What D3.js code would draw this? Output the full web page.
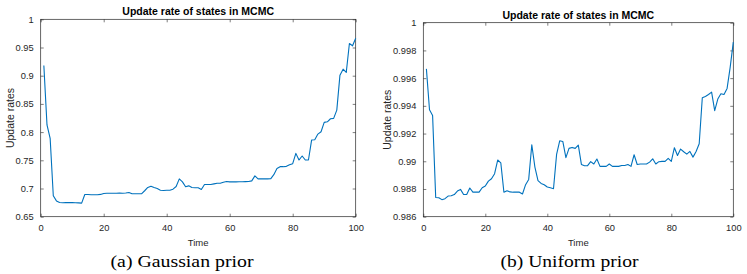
<!DOCTYPE html>
<html>
<head>
<meta charset="utf-8">
<script src="https://cdn.jsdelivr.net/npm/d3@7"></script>
<style>
  html, body { margin: 0; padding: 0; background: #fff; }
  svg { display: block; }
</style>
</head>
<body>
<svg id="chart" width="747" height="274"></svg>
<script>
// ---- data ----
const timeSteps = d3.range(1, 101);

const gaussianRates = [
  0.918, 0.8126, 0.789, 0.687, 0.678, 0.6753, 0.6747, 0.675, 0.675, 0.675,
  0.6748, 0.6745, 0.6741, 0.6894, 0.6894, 0.689, 0.689, 0.689, 0.6895, 0.6912,
  0.6915, 0.6915, 0.6915, 0.6915, 0.6918, 0.6915, 0.692, 0.693, 0.6906, 0.6906,
  0.6906, 0.6906, 0.696, 0.7018, 0.7041, 0.7018, 0.700, 0.697, 0.6965, 0.697,
  0.697, 0.6988, 0.7035, 0.717, 0.7118, 0.703, 0.7047, 0.7018, 0.7012, 0.7012,
  0.6982, 0.707, 0.707, 0.707, 0.7082, 0.7094, 0.7094, 0.7112, 0.7124, 0.7118,
  0.7118, 0.7118, 0.712, 0.712, 0.7122, 0.7124, 0.7135, 0.7224, 0.717, 0.717,
  0.717, 0.717, 0.7172, 0.7245, 0.7355, 0.7387, 0.7387, 0.7393, 0.7422, 0.744,
  0.7623, 0.7505, 0.7576, 0.7505, 0.7505, 0.7859, 0.7865, 0.7965, 0.8006, 0.8172,
  0.8183, 0.8237, 0.8243, 0.839, 0.901, 0.9116, 0.9057, 0.957, 0.953, 0.9665
];

const uniformRates = [
  0.99667, 0.99372, 0.99331, 0.98739, 0.98737, 0.98723, 0.9873, 0.98749, 0.98751, 0.9876,
  0.98785, 0.98797, 0.9876, 0.9876, 0.98807, 0.98777, 0.98777, 0.98777, 0.98809, 0.98821,
  0.98857, 0.98874, 0.9891, 0.99009, 0.98989, 0.98777, 0.98787, 0.98779, 0.98777, 0.98777,
  0.98777, 0.98764, 0.98831, 0.98869, 0.99119, 0.98958, 0.9886, 0.9884, 0.98831, 0.98814,
  0.98809, 0.98802, 0.9905, 0.99148, 0.99143, 0.99026, 0.99093, 0.991, 0.99093, 0.99117,
  0.98977, 0.98968, 0.98968, 0.98997, 0.9898, 0.99016, 0.98963, 0.98963, 0.98963, 0.9898,
  0.98963, 0.98963, 0.98963, 0.9897, 0.9897, 0.98977, 0.98963, 0.99047, 0.98977, 0.9898,
  0.9898, 0.9898, 0.98994, 0.99018, 0.9898, 0.98997, 0.98999, 0.98999, 0.99021, 0.98999,
  0.99098, 0.99042, 0.99088, 0.99069, 0.99052, 0.99071, 0.9903, 0.99071, 0.99126, 0.99458,
  0.99468, 0.99482, 0.99499, 0.99365, 0.99449, 0.99487, 0.99482, 0.99526, 0.99679, 0.9986
];

const xTickValues = [0, 20, 40, 60, 80, 100];
const gaussianYTicks = [0.65, 0.7, 0.75, 0.8, 0.85, 0.9, 0.95, 1];
const gaussianYTickLabels = ["0.65", "0.7", "0.75", "0.8", "0.85", "0.9", "0.95", "1"];
const uniformYTicks = [0.986, 0.988, 0.99, 0.992, 0.994, 0.996, 0.998, 1];
const uniformYTickLabels = ["0.986", "0.988", "0.99", "0.992", "0.994", "0.996", "0.998", "1"];

const chartTitle = "Update rate of states in MCMC";
const xLabel = "Time";
const yLabel = "Update rates";
const captions = ["(a) Gaussian prior", "(b) Uniform prior"];

// ---- drawing ----
const svg = d3.select("#chart");
const AX = "#262626";
const LINE = "#0072BD";
const sans = "'Liberation Sans', Arial, Helvetica, sans-serif";

function panel(cfg) {
  const x = d3.scaleLinear().domain([0, 100]).range([cfg.left, cfg.right]);
  const y = d3.scaleLinear().domain(cfg.yDomain).range([cfg.bottom, cfg.top]);
  const g = svg.append("g");
  const tl = 3;

  const xb = g.append("g").attr("transform", `translate(0,${cfg.bottom})`)
    .call(d3.axisBottom(x).tickValues(xTickValues).tickSizeInner(-tl).tickSizeOuter(0).tickPadding(8).tickFormat(d3.format("d")));
  const xt = g.append("g").attr("transform", `translate(0,${cfg.top})`)
    .call(d3.axisTop(x).tickValues(xTickValues).tickSizeInner(-tl).tickSizeOuter(0).tickFormat(""));
  const yl = g.append("g").attr("transform", `translate(${cfg.left},0)`)
    .call(d3.axisLeft(y).tickValues(cfg.yTicks).tickSizeInner(-tl).tickSizeOuter(0).tickPadding(7)
      .tickFormat((d, i) => cfg.yLabels[i]));
  const yr = g.append("g").attr("transform", `translate(${cfg.right},0)`)
    .call(d3.axisRight(y).tickValues(cfg.yTicks).tickSizeInner(-tl).tickSizeOuter(0).tickFormat(""));

  [xb, xt, yl, yr].forEach(a => {
    a.select(".domain").remove();
    a.selectAll(".tick line").attr("stroke", AX).attr("stroke-width", 0.6);
    a.selectAll("text").attr("fill", AX).style("font-family", sans).style("font-size", "9.3px");
  });

  g.append("rect")
    .attr("x", cfg.left).attr("y", cfg.top)
    .attr("width", cfg.right - cfg.left).attr("height", cfg.bottom - cfg.top)
    .attr("fill", "none").attr("stroke", AX).attr("stroke-width", 0.7);

  const line = d3.line().x((d, i) => x(timeSteps[i])).y(d => y(d));
  g.append("path").datum(cfg.values)
    .attr("d", line).attr("fill", "none").attr("stroke", LINE).attr("stroke-width", 1.1)
    .attr("stroke-linejoin", "round");

  g.append("text").attr("x", (cfg.left + cfg.right) / 2).attr("y", cfg.titleY)
    .attr("text-anchor", "middle").attr("fill", "#000")
    .style("font-family", sans).style("font-weight", "bold").style("font-size", "10.5px")
    .text(chartTitle);

  g.append("text").attr("x", (cfg.left + cfg.right) / 2).attr("y", 246)
    .attr("text-anchor", "middle").attr("fill", AX)
    .style("font-family", sans).style("font-size", "9.5px")
    .text(xLabel);

  g.append("text")
    .attr("transform", `translate(${cfg.yLabelX},${(cfg.top + cfg.bottom) / 2}) rotate(-90)`)
    .attr("text-anchor", "middle").attr("fill", AX)
    .style("font-family", sans).style("font-size", "10.5px")
    .text(yLabel);

  svg.append("text").attr("x", cfg.captionX).attr("y", 267)
    .attr("text-anchor", "middle").attr("fill", "#000")
    .attr("textLength", cfg.captionW).attr("lengthAdjust", "spacingAndGlyphs")
    .style("font-family", "'Liberation Serif', 'Times New Roman', serif").style("font-size", "16.5px")
    .text(cfg.caption);
}

panel({
  left: 40.7, right: 355.7, top: 19.3, bottom: 216.7,
  yDomain: [0.65, 1], yTicks: gaussianYTicks, yLabels: gaussianYTickLabels,
  values: gaussianRates, titleY: 15, yLabelX: 14, captionX: 182, captionW: 143, caption: captions[0]
});
panel({
  left: 423.3, right: 733.3, top: 22.7, bottom: 216.7,
  yDomain: [0.986, 1], yTicks: uniformYTicks, yLabels: uniformYTickLabels,
  values: uniformRates, titleY: 18.5, yLabelX: 391, captionX: 569.5, captionW: 138, caption: captions[1]
});
</script>
</body>
</html>
